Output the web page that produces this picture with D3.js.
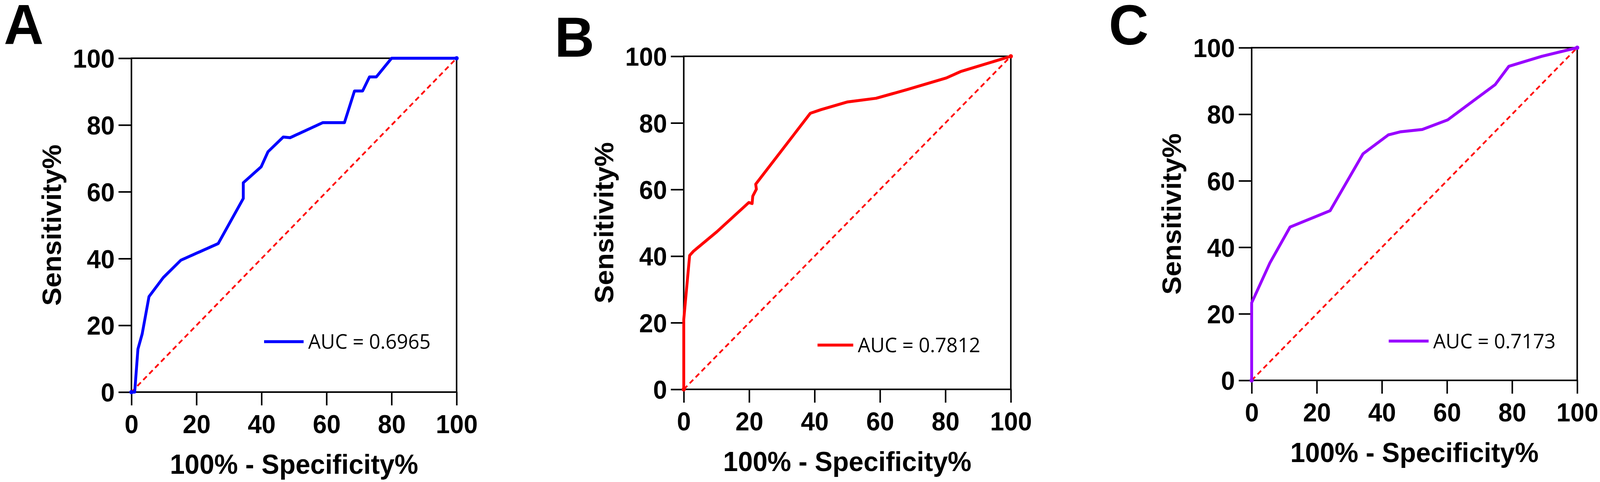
<!DOCTYPE html>
<html>
<head>
<meta charset="utf-8">
<script src="https://cdn.jsdelivr.net/npm/d3@7"></script>
<style>
  html, body { margin: 0; padding: 0; background: #fff; width: 100%; height: 100%; overflow: hidden; }
  svg { display: block; position: absolute; left: 0; top: 0; }
</style>
</head>
<body>
<script>
// ---------------- DATA ----------------
const panelLetters = ["A", "B", "C"];
const xTickValues = [0, 20, 40, 60, 80, 100];
const yTickValues = [0, 20, 40, 60, 80, 100];
const xTitle = "100% - Specificity%";
const yTitle = "Sensitivity%";
const aucLabels = ["AUC = 0.6965", "AUC = 0.7812", "AUC = 0.7173"];

// Panel A (1 - specificity %, sensitivity %)
const fprA = [0, 1.0, 2.0, 3.3, 5.4, 9.8, 15.2, 26.7, 34.4, 34.4, 39.9, 42.0, 46.7, 48.8, 58.8, 65.5, 68.6, 71.1, 73.2, 75.3, 80.0, 81.1, 100];
const tprA = [0, 0, 12.9, 17.4, 28.6, 34.3, 39.5, 44.5, 58.0, 62.7, 67.5, 72.0, 76.4, 76.2, 80.7, 80.7, 90.2, 90.2, 94.4, 94.4, 100, 100, 100];

// Panel B
const fprB = [0, 0, 1.8, 3.0, 10.1, 19.9, 20.9, 21.1, 22.2, 22.0, 38.7, 42.0, 50.1, 58.8, 68.3, 80.3, 84.6, 100];
const tprB = [0, 21.0, 40.2, 41.5, 47.3, 56.1, 55.8, 58.0, 60.1, 61.6, 82.9, 84.0, 86.3, 87.4, 90.0, 93.5, 95.4, 100];

// Panel C
const fprC = [0, 0, 5.6, 11.8, 24.1, 34.2, 42.0, 45.6, 52.4, 60.2, 74.8, 79.0, 89.1, 100];
const tprC = [0, 23.3, 35.3, 46.1, 51.0, 68.1, 73.8, 74.7, 75.4, 78.3, 88.9, 94.4, 97.4, 100];

const fprSeries = [fprA, fprB, fprC];
const tprSeries = [tprA, tprB, tprC];

// ---------------- LAYOUT / STYLE ----------------
const W = 4212, H = 1233;
const curveColors = ["#0000ff", "#ff0000", "#9900ff"];
const layout = [
  { left: 346,  right: 1202, top: 149, bottom: 1003, letterX: 10,   letterY: 112, legX: 40.8, legY: 15.1, legLen: 104 },
  { left: 1800, right: 2661, top: 144, bottom: 996,  letterX: 1460, letterY: 145, legX: 40.9, legY: 13.3, legLen: 94 },
  { left: 3295, right: 4152, top: 122, bottom: 973,  letterX: 2919, letterY: 114, legX: 42.1, legY: 11.8, legLen: 105 }
];
const boldFont = "'Liberation Sans', Arial, sans-serif";
const legendFont = "'Open Sans', 'Noto Sans', sans-serif";

const svg = d3.select("body").append("svg")
  .attr("width", "100%").attr("height", "100%")
  .style("width", "100vw").style("height", "100vh")
  .attr("viewBox", `0 0 ${W} ${H}`)
  .attr("preserveAspectRatio", "none");
svg.append("rect").attr("width", W).attr("height", H).attr("fill", "#fff");

panelLetters.forEach((letter, i) => {
  const L = layout[i];
  const x = d3.scaleLinear().domain([0, 100]).range([L.left, L.right]);
  const y = d3.scaleLinear().domain([0, 100]).range([L.bottom, L.top]);
  const g = svg.append("g");

  // panel letter
  svg.append("text")
    .attr("x", L.letterX).attr("y", L.letterY)
    .attr("font-family", boldFont).attr("font-weight", "bold")
    .attr("font-size", 145).attr("fill", "#000")
    .text(letter);

  // frame (top and right)
  g.append("line").attr("x1", x(0)).attr("x2", x(100)).attr("y1", y(100)).attr("y2", y(100))
    .attr("stroke", "#000").attr("stroke-width", 4);
  g.append("line").attr("x1", x(100)).attr("x2", x(100)).attr("y1", y(0)).attr("y2", y(100))
    .attr("stroke", "#000").attr("stroke-width", 4);

  // axes
  const xAxis = d3.axisBottom(x).tickValues(xTickValues).tickSize(34).tickSizeOuter(0).tickPadding(0).tickFormat(d3.format("d"));
  const yAxis = d3.axisLeft(y).tickValues(yTickValues).tickSize(34).tickSizeOuter(0).tickPadding(0).tickFormat(d3.format("d"));

  const gx = g.append("g").attr("transform", `translate(0,${y(0)})`).call(xAxis);
  const gy = g.append("g").attr("transform", `translate(${x(0)},0)`).call(yAxis);

  [gx, gy].forEach(ax => {
    ax.select(".domain").attr("stroke", "#000").attr("stroke-width", 4);
    ax.selectAll(".tick line").attr("stroke", "#000").attr("stroke-width", 4);
    ax.selectAll(".tick text")
      .attr("font-family", boldFont).attr("font-weight", "bold")
      .attr("font-size", 66).attr("fill", "#000");
  });
  gx.select(".domain").attr("d", `M${x(0) - 2},0H${x(100) + 2}`);
  gy.select(".domain").attr("d", `M0,${y(0) + 2}V${y(100) - 2}`);

  gx.selectAll(".tick text").attr("y", 105).attr("dy", 0);
  gy.selectAll(".tick text").attr("x", -44).attr("dy", "0.36em");

  // axis titles
  svg.append("text")
    .attr("x", (L.left + L.right) / 2).attr("y", L.bottom + 209)
    .attr("text-anchor", "middle")
    .attr("font-family", boldFont).attr("font-weight", "bold")
    .attr("font-size", 70).attr("fill", "#000")
    .text(xTitle);
  svg.append("text")
    .attr("transform", `translate(${L.left - 186},${(L.top + L.bottom) / 2}) rotate(-90)`)
    .attr("text-anchor", "middle")
    .attr("font-family", boldFont).attr("font-weight", "bold")
    .attr("font-size", 70).attr("fill", "#000")
    .text(yTitle);

  // diagonal reference line
  g.append("line")
    .attr("x1", x(0)).attr("y1", y(0)).attr("x2", x(100)).attr("y2", y(100))
    .attr("stroke", "#ff0000").attr("stroke-width", 4.5)
    .attr("stroke-dasharray", "13,9");

  // ROC curve
  const pts = fprSeries[i].map((f, k) => [f, tprSeries[i][k]]);
  const line = d3.line().x(d => x(d[0])).y(d => y(d[1]));
  g.append("path")
    .datum(pts)
    .attr("d", line)
    .attr("fill", "none")
    .attr("stroke", curveColors[i])
    .attr("stroke-width", 7.5)
    .attr("stroke-linejoin", "round")
    .attr("stroke-linecap", "round");
  g.selectAll(".pt").data([pts[0], pts[pts.length - 1]]).enter().append("circle")
    .attr("cx", d => x(d[0])).attr("cy", d => y(d[1])).attr("r", 5.5)
    .attr("fill", curveColors[i]);

  // legend
  const lx = x(L.legX), ly = y(L.legY);
  g.append("line")
    .attr("x1", lx).attr("x2", lx + L.legLen).attr("y1", ly).attr("y2", ly)
    .attr("stroke", curveColors[i]).attr("stroke-width", 7.5);
  g.append("text")
    .attr("x", lx + L.legLen + 12).attr("y", ly + 18)
    .attr("font-family", legendFont).attr("font-size", 52).attr("fill", "#000")
    .text(aucLabels[i]);
});
</script>
</body>
</html>
